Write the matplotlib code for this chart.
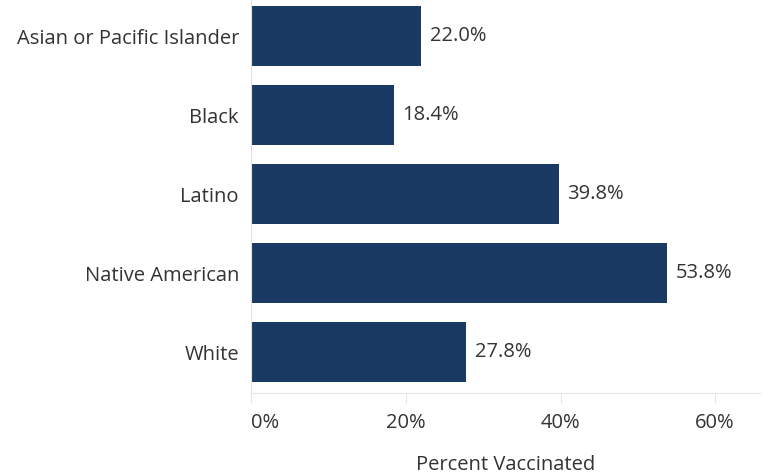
import matplotlib
matplotlib.use("Agg")
import matplotlib.pyplot as plt
from matplotlib.ticker import FuncFormatter

categories = ["Asian or Pacific Islander", "Black", "Latino", "Native American", "White"]
values = [22.0, 18.4, 39.8, 53.8, 27.8]
xticks = [0, 20, 40, 60]

plt.rcParams['font.family'] = ['Open Sans', 'DejaVu Sans']
fig = plt.figure(figsize=(7.63, 4.76), dpi=100)
ax = fig.add_axes([0.3296, 0.174, 0.6664, 0.826])

FS = 14.5
TC = "#333333"
ypos = list(range(len(categories)))
ax.barh(ypos, values, height=0.76, color="#1a3a63", edgecolor="none")
for y, v in zip(ypos, values):
    ax.text(v + 1.1, y, f"{v:.1f}%", va="center", ha="left", fontsize=FS, color=TC)

ax.set_ylim(4.52, -0.456)
ax.set_xlim(0, 65.8)
ax.set_yticks(ypos)
ax.set_yticklabels(categories, fontsize=FS, color=TC)
ax.set_xticks(xticks)
ax.xaxis.set_major_formatter(FuncFormatter(lambda x, p: f"{x:.0f}%"))
ax.tick_params(axis='x', labelsize=FS, colors=TC, length=7, color="#e6e6e6", pad=7)
ax.tick_params(axis='y', length=0, pad=9)
xl = ax.get_xticklabels()
xl[0].set_ha("left")
for s in ["top", "right"]:
    ax.spines[s].set_visible(False)
ax.spines["left"].set_color("#e0e0e0")
ax.spines["bottom"].set_color("#e6e6e6")
ax.set_xlabel("Percent Vaccinated", fontsize=FS, color=TC, labelpad=16)

fig.savefig("out.png", dpi=100)
